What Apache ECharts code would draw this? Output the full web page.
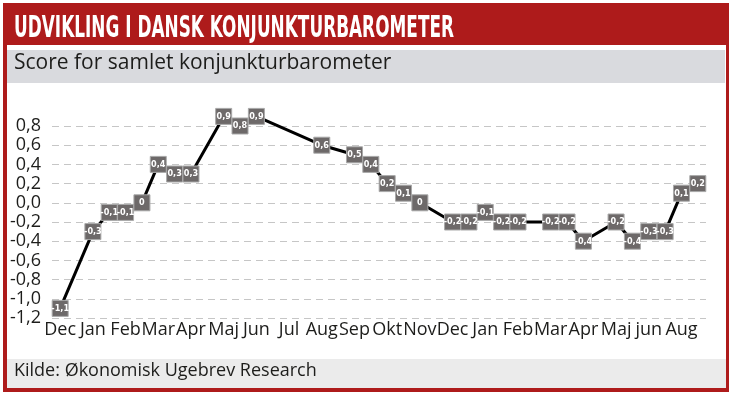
<!DOCTYPE html>
<html>
<head>
<meta charset="utf-8">
<script src="https://cdn.jsdelivr.net/npm/echarts@6/dist/echarts.min.js"></script>
<style>
html,body{margin:0;padding:0;background:#fff;}
#chart{width:729px;height:393px;}
</style>
</head>
<body>
<div id="chart"></div>
<script>
const titleText = 'UDVIKLING I DANSK KONJUNKTURBAROMETER';
const subtitleText = 'Score for samlet konjunkturbarometer';
const sourceText = 'Kilde: Økonomisk Ugebrev Research';

// month tick labels (one per month, every second half-month slot)
const monthLabels = ['Dec','Jan','Feb','Mar','Apr','Maj','Jun','Jul','Aug','Sep','Okt','Nov','Dec','Jan','Feb','Mar','Apr','Maj','jun','Aug'];
// position of each observation in half-month slots from the first Dec
const pointSlots = [0,2,3,4,5,6,7,8,10,11,12,16,18,19,20,21,22,24,25,26,27,28,30,31,32,34,35,36,37,38,39];
// score values
const pointValues = [-1.1,-0.3,-0.1,-0.1,0,0.4,0.3,0.3,0.9,0.8,0.9,0.6,0.5,0.4,0.2,0.1,0,-0.2,-0.2,-0.1,-0.2,-0.2,-0.2,-0.2,-0.4,-0.2,-0.4,-0.3,-0.3,0.1,0.2];

const yMin = -1.2, yMax = 0.8, yStep = 0.2;

const slotCount = monthLabels.length * 2;
const slotCats = [];
for (let i = 0; i < slotCount; i++) slotCats.push(String(i));
const seriesData = pointSlots.map((s, i) => [s, pointValues[i]]);

function fmtComma(v, zeroPlain) {
  if (Math.abs(v) < 1e-9) return zeroPlain ? '0' : '0,0';
  return v.toFixed(1).replace('.', ',');
}

// measure title to fit condensed width
const titleFont = 'bold 30px "Liberation Sans Narrow", "DejaVu Sans Condensed", "Liberation Sans", sans-serif';
const cv = document.createElement('canvas').getContext('2d');
cv.font = titleFont;
const titleW = cv.measureText(titleText).width;
const titleScale = 440 / titleW;

const RED = '#AE1B1B';

const chart = echarts.init(document.getElementById('chart'), null, {renderer: 'canvas'});
chart.setOption({
  backgroundColor: '#ffffff',
  animation: false,
  graphic: [
    {type: 'rect', z: -10, shape: {x: 3, y: 3, width: 726, height: 389}, style: {fill: RED}},
    {type: 'rect', z: -9, shape: {x: 7, y: 45, width: 719, height: 343}, style: {fill: '#ffffff'}},
    {type: 'rect', z: -8, shape: {x: 7, y: 50, width: 718, height: 33}, style: {fill: '#D9DADE'}},
    {type: 'rect', z: -8, shape: {x: 7, y: 359, width: 719, height: 29}, style: {fill: '#EBEBEB'}},
    {type: 'text', z: 3, x: 14, y: 29, scaleX: titleScale, style: {
      text: titleText, x: 0, y: 0, fill: '#ffffff', font: titleFont, textVerticalAlign: 'middle', textAlign: 'left'}},
    {type: 'text', z: 3, left: 14, top: 53, style: {
      text: subtitleText, fill: '#1d1d1b', fontSize: 21, fontFamily: '"Open Sans", "Noto Sans", sans-serif'}},
    {type: 'text', z: 3, left: 14, top: 362, style: {
      text: sourceText, fill: '#1d1d1b', fontSize: 18, fontFamily: '"Open Sans", "Noto Sans", sans-serif'}}
  ],
  grid: {left: 52, right: 23, top: 126, bottom: 75, containLabel: false},
  xAxis: {
    type: 'category',
    z: 5,
    data: slotCats,
    boundaryGap: true,
    axisLine: {show: false},
    axisTick: {show: false},
    splitLine: {show: false},
    axisLabel: {
      interval: 0,
      margin: 3,
      color: '#1d1d1b',
      fontSize: 18,
      fontFamily: '"Open Sans", "Noto Sans", sans-serif',
      formatter: (v) => { const i = Number(v); return i % 2 === 0 ? monthLabels[i / 2] : ''; }
    }
  },
  yAxis: {
    type: 'value',
    z: 5,
    min: yMin, max: yMax, interval: yStep,
    axisLine: {show: false},
    axisTick: {show: false},
    splitLine: {show: true, lineStyle: {color: '#C6C6C6', width: 1, type: [7, 5]}},
    axisLabel: {
      margin: 11,
      color: '#1d1d1b',
      fontSize: 18,
      fontFamily: '"Open Sans", "Noto Sans", sans-serif',
      formatter: (v) => fmtComma(v, false)
    }
  },
  series: [{
    type: 'line',
    z: 6,
    data: seriesData,
    clip: false,
    lineStyle: {color: '#000000', width: 3},
    symbol: 'rect',
    symbolSize: 16,
    itemStyle: {color: '#6D6969', borderColor: '#A9A9A9', borderWidth: 1},
    label: {
      show: true,
      position: 'inside',
      color: '#ffffff',
      fontSize: 9,
      fontWeight: 'bold',
      fontFamily: '"Liberation Sans Narrow", "DejaVu Sans Condensed", sans-serif',
      formatter: (p) => fmtComma(p.value[1], true)
    },
    emphasis: {disabled: true}
  }]
});
</script>
</body>
</html>
